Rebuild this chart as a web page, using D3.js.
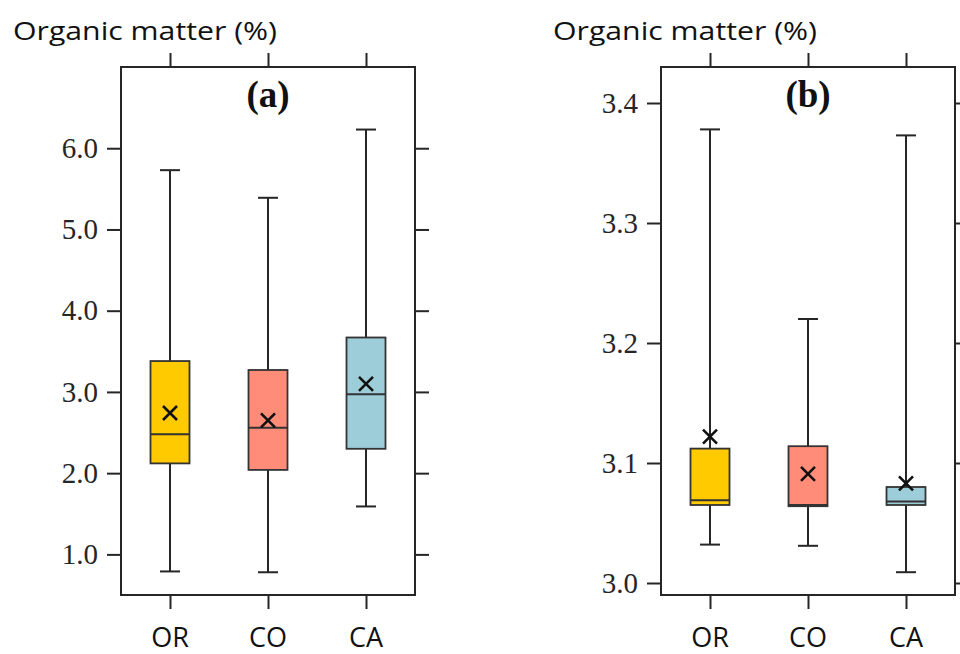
<!DOCTYPE html>
<html>
<head>
<meta charset="utf-8">
<script src="https://cdn.jsdelivr.net/npm/d3@7"></script>
<style>
  html, body { margin: 0; padding: 0; background: #fff; }
  svg { display: block; }
</style>
</head>
<body>
<div id="chart"></div>
<script>
// Boxplots Organic matter (%) — (a) und (b), je OR / CO / CA

const categories = ["OR", "CO", "CA"];
const boxColors  = ["#FFCA00", "#FF8C78", "#9DCDD9"];

// Panel (a)
const aLow    = [0.79, 0.78, 1.59];
const aQ1     = [2.12, 2.04, 2.30];
const aMedian = [2.48, 2.56, 2.97];
const aQ3     = [3.38, 3.27, 3.67];
const aHigh   = [5.73, 5.39, 6.23];
const aMean   = [2.74, 2.65, 3.10];
const aTicks  = [1.0, 2.0, 3.0, 4.0, 5.0, 6.0];
const aDomain = [0.5, 7.0];

// Panel (b)
const bLow    = [3.032, 3.031, 3.009];
const bQ1     = [3.065, 3.064, 3.065];
const bMedian = [3.069, 3.065, 3.068];
const bQ3     = [3.112, 3.114, 3.080];
const bHigh   = [3.378, 3.220, 3.373];
const bMean   = [3.122, 3.091, 3.083];
const bTicks  = [3.0, 3.1, 3.2, 3.3, 3.4];
const bDomain = [2.99, 3.43];

const W = 960, H = 654;
const svg = d3.select("#chart").append("svg").attr("width", W).attr("height", H);

const SERIF = "'Times New Roman', 'Liberation Serif', serif";
const SANS  = "'Open Sans', 'Noto Sans', sans-serif";
const INK = "#262626";

function drawPanel({ left, label, low, q1, med, q3, high, mean, ticks, domain }) {
  const top = 67, bottom = 595, right = left + 294;
  const TK = 14;

  const x = d3.scalePoint().domain(categories).range([left, right]).padding(0.5);
  const y = d3.scaleLinear().domain(domain).range([bottom, top]);

  const g = svg.append("g");

  // Achsen (Ticks nach außen, auf allen vier Seiten)
  const styleAxis = sel => {
    sel.select(".domain").remove();
    sel.selectAll(".tick line").attr("stroke", INK).attr("stroke-width", 2);
  };
  g.append("g").attr("transform", `translate(${left},0)`)
    .call(d3.axisLeft(y).tickValues(ticks).tickSize(TK).tickPadding(9).tickFormat(d3.format(".1f")))
    .call(styleAxis)
    .call(a => a.selectAll(".tick text").attr("fill", INK)
      .style("font-family", SERIF).style("font-size", "29px"));
  g.append("g").attr("transform", `translate(${right},0)`)
    .call(d3.axisRight(y).tickValues(ticks).tickSize(TK).tickFormat(""))
    .call(styleAxis);
  g.append("g").attr("transform", `translate(0,${top})`)
    .call(d3.axisTop(x).tickSize(TK).tickFormat(""))
    .call(styleAxis);
  g.append("g").attr("transform", `translate(0,${bottom})`)
    .call(d3.axisBottom(x).tickSize(TK).tickFormat(""))
    .call(styleAxis);

  // Rahmen
  g.append("rect").attr("x", left).attr("y", top)
    .attr("width", right - left).attr("height", bottom - top)
    .attr("fill", "none").attr("stroke", INK).attr("stroke-width", 2);

  // Kategorien unten
  g.selectAll("text.cat").data(categories).join("text")
    .attr("class", "cat")
    .attr("x", d => x(d)).attr("y", 647)
    .attr("text-anchor", "middle")
    .style("font-family", SANS).style("font-size", "27px").attr("fill", "#111")
    .text(d => d);

  // Titel oben links
  g.append("text").attr("x", left - 108).attr("y", 40)
    .style("font-family", SANS).style("font-size", "26px").attr("fill", "#111")
    .attr("textLength", 264).attr("lengthAdjust", "spacingAndGlyphs")
    .text("Organic matter (%)");

  // Panel-Kennung
  g.append("text").attr("x", x(categories[1])).attr("y", 107)
    .attr("text-anchor", "middle")
    .style("font-family", SERIF).style("font-size", "37px").style("font-weight", "700")
    .attr("fill", "#111")
    .text(label);

  const data = categories.map((c, i) => ({
    c, i, low: low[i], q1: q1[i], med: med[i], q3: q3[i], high: high[i], mean: mean[i]
  }));
  const bw = 39, cap = 20;

  const b = g.selectAll("g.box").data(data).join("g").attr("class", "box");

  // Whisker
  b.append("line")
    .attr("x1", d => x(d.c)).attr("x2", d => x(d.c))
    .attr("y1", d => y(d.high)).attr("y2", d => y(d.low))
    .attr("stroke", INK).attr("stroke-width", 2);
  b.append("line")
    .attr("x1", d => x(d.c) - cap / 2).attr("x2", d => x(d.c) + cap / 2)
    .attr("y1", d => y(d.high)).attr("y2", d => y(d.high))
    .attr("stroke", INK).attr("stroke-width", 2);
  b.append("line")
    .attr("x1", d => x(d.c) - cap / 2).attr("x2", d => x(d.c) + cap / 2)
    .attr("y1", d => y(d.low)).attr("y2", d => y(d.low))
    .attr("stroke", INK).attr("stroke-width", 2);

  // Box
  b.append("rect")
    .attr("x", d => x(d.c) - bw / 2).attr("width", bw)
    .attr("y", d => y(d.q3)).attr("height", d => y(d.q1) - y(d.q3))
    .attr("fill", d => boxColors[d.i]).attr("stroke", "#333").attr("stroke-width", 1.8);

  // Median
  b.append("line")
    .attr("x1", d => x(d.c) - bw / 2).attr("x2", d => x(d.c) + bw / 2)
    .attr("y1", d => y(d.med)).attr("y2", d => y(d.med))
    .attr("stroke", "#333").attr("stroke-width", 2);

  // Mittelwert (×)
  const s = 7;
  b.append("path")
    .attr("d", d => {
      const cx = x(d.c), cy = y(d.mean);
      return `M${cx - s},${cy - s}L${cx + s},${cy + s}M${cx - s},${cy + s}L${cx + s},${cy - s}`;
    })
    .attr("stroke", "#111").attr("stroke-width", 2.6).attr("fill", "none");
}

drawPanel({ left: 121, label: "(a)", low: aLow, q1: aQ1, med: aMedian, q3: aQ3,
  high: aHigh, mean: aMean, ticks: aTicks, domain: aDomain });
drawPanel({ left: 661, label: "(b)", low: bLow, q1: bQ1, med: bMedian, q3: bQ3,
  high: bHigh, mean: bMean, ticks: bTicks, domain: bDomain });
</script>
</body>
</html>
